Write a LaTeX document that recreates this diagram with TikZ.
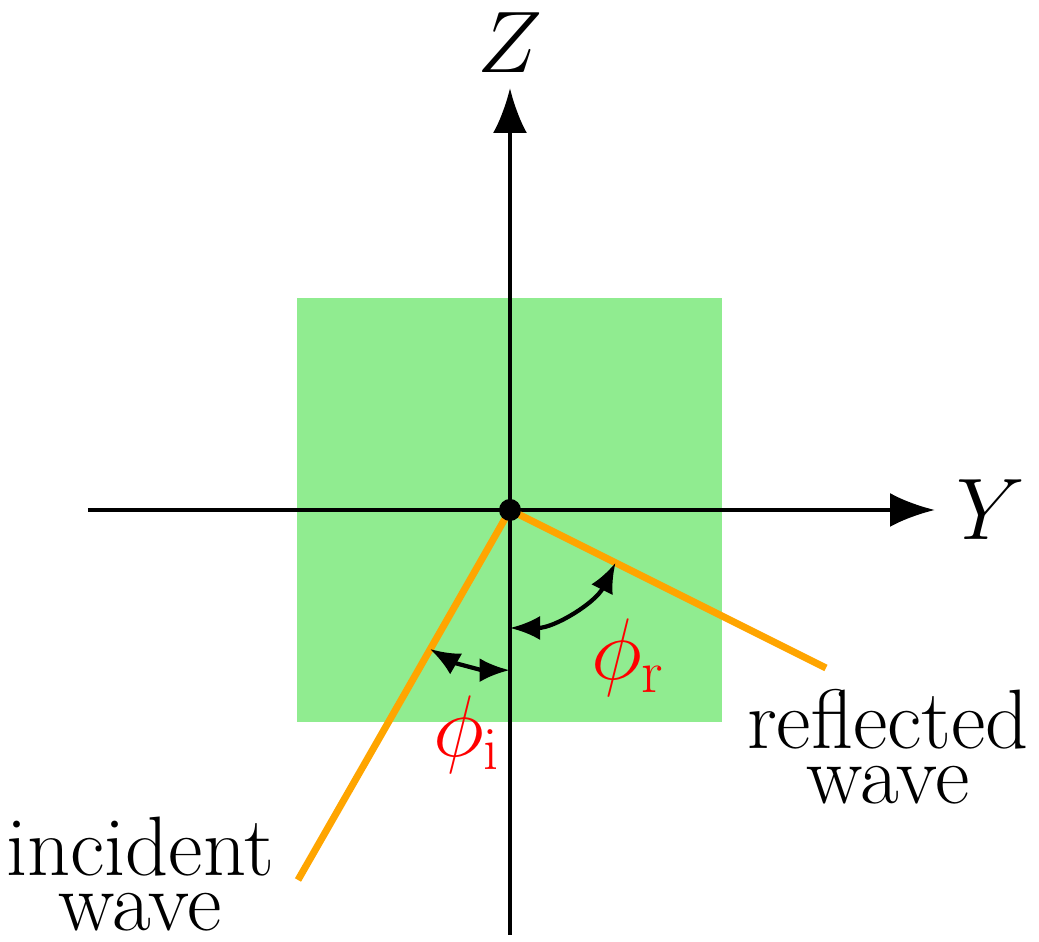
\documentclass[tikz,border=0pt]{standalone}
\usetikzlibrary{arrows.meta}
\definecolor{plate}{RGB}{144,236,144}
\definecolor{wave}{RGB}{255,165,0}
\tikzset{
axis/.style={line width=1.2pt, -{Latex[length=0.45cm,width=0.34cm]}},
ray/.style={wave, line width=2pt},
angarc/.style={line width=1.2pt, {Latex[length=0.3cm,width=0.24cm]}-{Latex[length=0.3cm,width=0.24cm]}},
every node/.style={font=\fontsize{24}{15.6}\selectfont}
}
\begin{document}
\begin{tikzpicture}
\useasboundingbox (-5.10,-4.32) rectangle (5.29,5.10);
\fill[plate] (-2.13,-2.12) rectangle (2.12,2.12);
\coordinate (O) at (0,0);
\coordinate (Yl) at (-4.22,0);
\coordinate (Ye) at (4.25,0);
\coordinate (Zl) at (0,-4.25);
\coordinate (Ze) at (0,4.22);
\draw[axis] (Yl) -- (Ye) node[right=0.08cm] (Ylab) {$Y$};
\draw[axis] (Zl) -- (Ze) node[above=0.02cm] (Zlab) {$Z$};
\coordinate (inc) at (-2.12,-3.7);
\coordinate (ref) at (3.16,-1.58);
\draw[ray] (inc) -- (O) -- (ref);
\fill (O) circle (0.11);
\draw[angarc] (0,-1.18) arc (-90:-26.6:1.18);
\draw[angarc] (-0.8,-1.39) arc (-119.8:-90:1.6);
\node[red] (phir) at (1.18,-1.48) {$\phi_{\mathrm{r}}$};
\node[red] (phii) at (-0.43,-2.25) {$\phi_{\mathrm{i}}$};
\node[align=center] (inclab) at (-3.70,-3.64) {incident\\wave};
\node[align=center] (reflab) at (3.78,-2.37) {reflected\\wave};
\end{tikzpicture}
\end{document}
